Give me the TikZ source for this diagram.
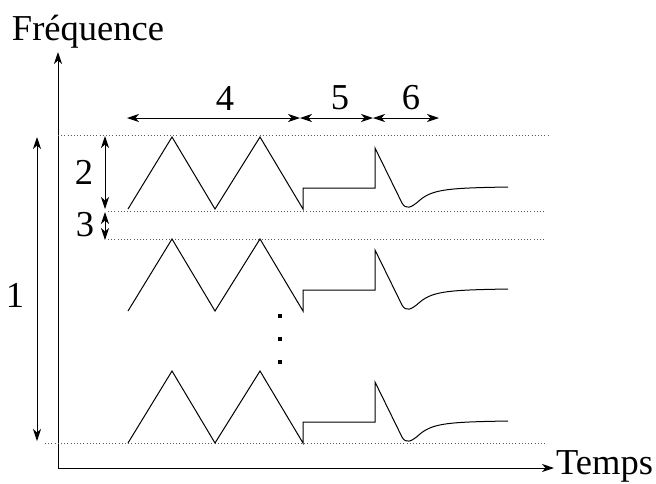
\documentclass[tikz,border=0pt]{standalone}
\usepackage{fontspec}
\setmainfont{Liberation Serif}
\usetikzlibrary{arrows.meta,positioning}

\begin{document}
\begin{tikzpicture}[
  x=1pt, y=-1pt,
  axis/.style={-{Stealth[length=12pt,width=8pt,inset=3.5pt]}, line width=0.9pt},
  dim/.style={{Stealth[length=12pt,width=8pt,inset=3.5pt]}-{Stealth[length=12pt,width=8pt,inset=3.5pt]}, line width=0.9pt},
  guide/.style={line width=0.8pt, dash pattern=on 1pt off 2.2pt, gray!70!black},
  wave/.style={line width=1pt, line join=miter},
  lbl/.style={font=\fontsize{36.5}{40}\selectfont, inner sep=0pt},
]
\useasboundingbox (0,0) rectangle (656,483);

% Axes
\coordinate (o) at (58,468);
\coordinate (ytop) at (58,52);
\coordinate (xend) at (554,468);
\draw[axis] (o) -- (ytop);
\draw[axis] (o) -- (xend);
\node[lbl, anchor=base] (freq) at (88,40) {Fréquence};
\node[lbl, anchor=base west] (temps) at (556,474) {Temps};

% Guide lines
\coordinate (g1a) at (58,135);  \coordinate (g1b) at (548,135);
\coordinate (g2a) at (108,211); \coordinate (g2b) at (546,211);
\coordinate (g3a) at (108,239); \coordinate (g3b) at (546,239);
\coordinate (g4a) at (45,443);  \coordinate (g4b) at (546,443);
\draw[guide] (g1a) -- (g1b);
\draw[guide] (g2a) -- (g2b);
\draw[guide] (g3a) -- (g3b);
\draw[guide] (g4a) -- (g4b);

% Waveforms
\foreach \b in {209,311,443}{
  \draw[wave, shift={(0,\b)}] (128,0) -- (172,-72) -- (215,0) -- (260,-72) -- (303,0)
    -- (303,-21) -- (375,-21) -- (375,-61) -- (402,-6)
    .. controls (406,1) and (411,-1) .. (420,-9)
    .. controls (433,-20) and (450,-21) .. (508,-22);
}

% Dots
\foreach \yy in {318,341,364}
  \fill (278,\yy) rectangle +(4,-4);

% Dimensions
\coordinate (d1t) at (37,137); \coordinate (d1b) at (37,441);
\draw[dim] (d1t) -- (d1b);
\node[lbl] (n1) at (15,295) {1};

\coordinate (d2t) at (105,136); \coordinate (d2b) at (105,209);
\draw[dim] (d2t) -- (d2b);
\node[lbl] (n2) at (84,172) {2};

\coordinate (d3t) at (105,212); \coordinate (d3b) at (105,240);
\draw[dim] (d3t) -- (d3b);
\node[lbl] (n3) at (85,225) {3};

\coordinate (h0) at (127,118); \coordinate (h1) at (300,118);
\coordinate (h2) at (373,118); \coordinate (h3) at (439,118);
\draw[dim] (h0) -- (h1);
\draw[dim] (h1) -- (h2);
\draw[dim] (h2) -- (h3);
\node[lbl] (n4) at (225,98) {4};
\node[lbl] (n5) at (340,98) {5};
\node[lbl] (n6) at (411,98) {6};
\end{tikzpicture}
\end{document}
